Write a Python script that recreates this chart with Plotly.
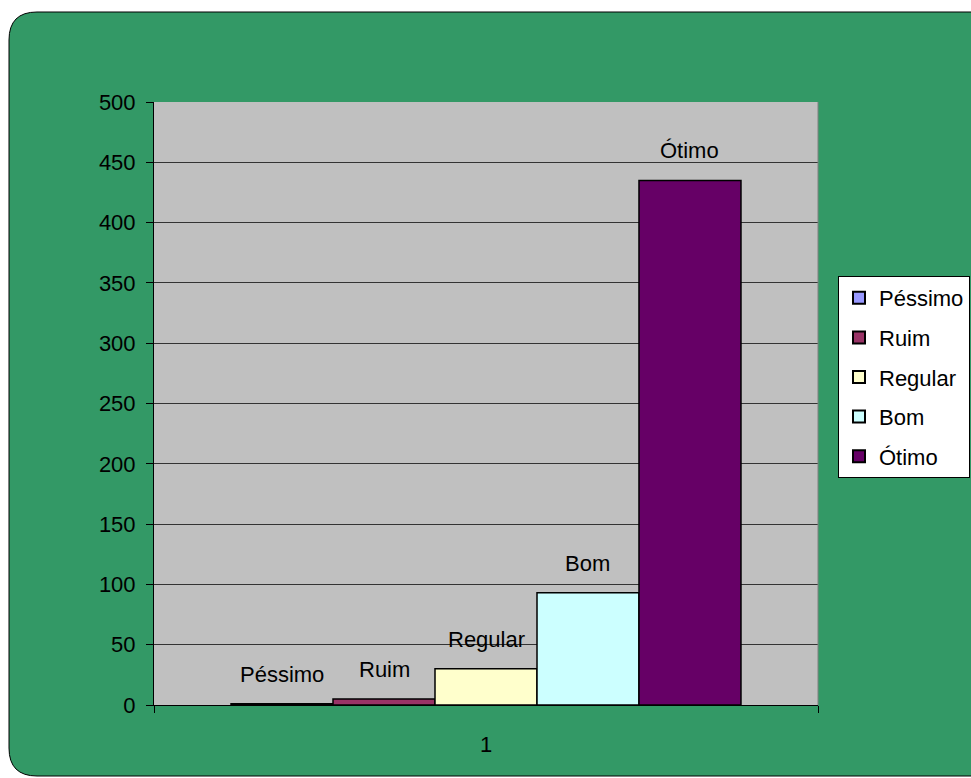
import plotly.graph_objects as go

categories = ["1"]
series_names = ["Péssimo", "Ruim", "Regular", "Bom", "Ótimo"]
series_values = [1, 5, 30, 93, 435]
series_colors = ["#9999FF", "#993366", "#FFFFCC", "#CCFFFF", "#660066"]
y_ticks = list(range(0, 501, 50))

W, H = 971, 778
L, R, T, B = 154, 153, 102, 73
pw, ph = W - L - R, H - T - B
bargap = 0.232
FONT = "Liberation Sans, Arial"

def px2x(px):
    return (px - L) / pw

def px2y(py):
    return (H - B - py) / ph

fig = go.Figure()
for name, val, col in zip(series_names, series_values, series_colors):
    fig.add_trace(go.Bar(
        x=categories, y=[val], name=name, legendgroup=name,
        marker=dict(color=col, line=dict(color="black", width=1.5)),
        hoverinfo="name+y",
    ))

# labels above bars
n = len(series_names)
bar_px = pw * (1 - bargap) / n
annotations = []
for i, (name, val) in enumerate(zip(series_names, series_values)):
    annotations.append(dict(
        x=0, y=val, xref="x", yref="y",
        text=name, showarrow=False, yanchor="bottom",
        xshift=(i - (n - 1) / 2) * bar_px, yshift=15,
        font=dict(family=FONT, size=22, color="black"),
    ))

# rounded green background
lx, ty, rx, by, r = 9, 12, 990, 776, 28
path = (f"M {px2x(lx + r)},{px2y(ty)} L {px2x(rx)},{px2y(ty)} L {px2x(rx)},{px2y(by)} "
        f"L {px2x(lx + r)},{px2y(by)} Q {px2x(lx)},{px2y(by)} {px2x(lx)},{px2y(by - r)} "
        f"L {px2x(lx)},{px2y(ty + r)} Q {px2x(lx)},{px2y(ty)} {px2x(lx + r)},{px2y(ty)} Z")
shapes = [
    dict(type="path", xref="paper", yref="paper", path=path,
         fillcolor="#339966", line=dict(color="black", width=1), layer="below"),
    dict(type="rect", xref="paper", yref="paper", x0=0, x1=1, y0=0, y1=1,
         fillcolor="#C0C0C0", line=dict(width=0), layer="below"),
    dict(type="line", xref="paper", yref="paper", x0=1, x1=1, y0=0, y1=1,
         line=dict(color="#808080", width=1)),
]

fig.update_layout(
    width=W, height=H,
    margin=dict(l=L, r=R, t=T, b=B, pad=0, autoexpand=False),
    paper_bgcolor="white", plot_bgcolor="rgba(0,0,0,0)",
    barmode="group", bargap=bargap, bargroupgap=0,
    font=dict(family=FONT, size=22, color="black"),
    showlegend=True,
    legend=dict(
        x=px2x(838), y=px2y(276), xanchor="left", yanchor="top",
        bgcolor="white", bordercolor="black", borderwidth=1,
        font=dict(size=22), tracegroupgap=8, itemsizing="constant",
        traceorder="grouped", itemwidth=30,
    ),
    annotations=annotations,
    shapes=shapes,
    xaxis=dict(
        showline=True, linecolor="black", linewidth=1,
        ticks="outside", tickson="boundaries", ticklen=7, tickcolor="black",
        showgrid=False, tickfont=dict(size=22), ticklabelstandoff=20,
    ),
    yaxis=dict(
        range=[0, 500], tickvals=y_ticks, showline=True, linecolor="black", linewidth=1,
        ticks="outside", ticklen=7, tickcolor="black",
        showgrid=True, gridcolor="#333333", gridwidth=1, zeroline=False,
        tickfont=dict(size=22), ticklabelstandoff=6,
    ),
)

fig.write_html("out.html", config={"displayModeBar": False},
               post_script="document.body.style.margin='0';")
